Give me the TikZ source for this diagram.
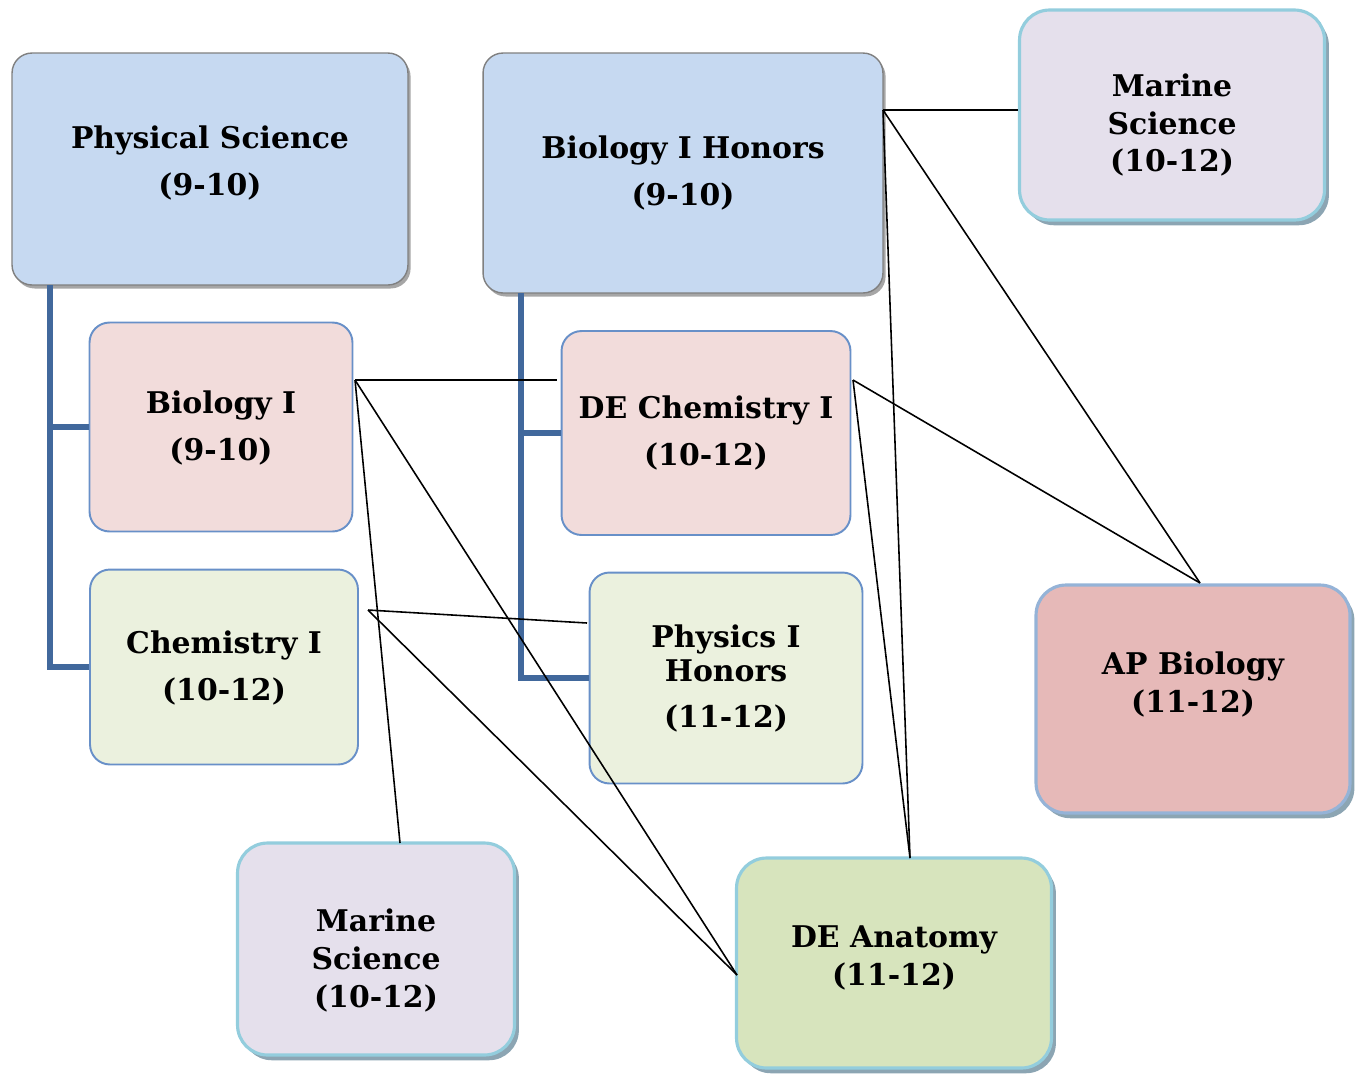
\documentclass[tikz,border=0pt]{standalone}
\usepackage{fontspec}
\setmainfont{DejaVu Serif}
\usepackage{tikz}
\usetikzlibrary{calc,shadows}

\definecolor{hdfill}{HTML}{C6D9F1}
\definecolor{hdline}{HTML}{808080}
\definecolor{pinkfill}{HTML}{F2DCDB}
\definecolor{greenfill}{HTML}{EBF1DE}
\definecolor{midline}{HTML}{6890C8}
\definecolor{lavfill}{HTML}{E5E0EC}
\definecolor{aqualine}{HTML}{93CDDD}
\definecolor{apfill}{HTML}{E6B9B8}
\definecolor{apline}{HTML}{95B3D7}
\definecolor{anfill}{HTML}{D7E4BD}
\definecolor{solidshadow}{HTML}{8CA5B3}
\definecolor{treeline}{HTML}{41689C}

\tikzset{
	course/.style={draw, rounded corners=0.4cm, align=center, font=\fontsize{17}{21.5}\selectfont\bfseries, inner sep=0pt},
	lastline/.style={text height=#1, text depth=0pt},
	headbox/.style={course, fill=hdfill, draw=hdline, line width=0.8pt,
		drop shadow={shadow xshift=1.5pt, shadow yshift=-2pt, fill=black, opacity=0.35}},
	midbox/.style={course, draw=midline, line width=1.1pt},
	endbox/.style={course, rounded corners=0.6cm, line width=1.8pt,
		drop shadow={shadow xshift=2.5pt, shadow yshift=-3pt, fill=solidshadow, opacity=1}},
	tree/.style={draw=treeline, line width=3.4pt},
	link/.style={draw=black, line width=0.9pt}
}

\begin{document}
\begin{tikzpicture}[x=0.02cm, y=-0.02cm]
			%%%%% START %%%%%
			\useasboundingbox (0,0) rectangle (1364,1076);
			
			\node[headbox, lastline=1.04cm, minimum width=7.92cm, minimum height=4.64cm] (phys) at (210,169) {Physical Science\\[5pt](9-10)};
			\node[headbox, lastline=1.28cm, minimum width=8cm, minimum height=4.8cm] (bioh) at (683,173) {Biology I Honors\\[5pt](9-10)};
			\node[endbox, lastline=2.28cm, fill=lavfill, draw=aqualine, minimum width=6.1cm, minimum height=4.2cm] (marT) at (1172,115) {Marine\\Science\\(10-12)};
			
			\node[midbox, lastline=1.32cm, fill=pinkfill, minimum width=5.26cm, minimum height=4.18cm] (bio) at (221,427) {Biology I\\[5pt](9-10)};
			\node[midbox, lastline=1.32cm, fill=greenfill, minimum width=5.36cm, minimum height=3.9cm] (chem) at (224,667) {Chemistry I\\[5pt](10-12)};
			\node[midbox, lastline=1.28cm, fill=pinkfill, minimum width=5.78cm, minimum height=4.08cm] (dechem) at (706,433) {DE Chemistry I\\[5pt](10-12)};
			\node[midbox, lastline=1.96cm, fill=greenfill, minimum width=5.46cm, minimum height=4.22cm] (phy) at (726,678) {Physics I\\[-2pt]Honors\\[4.5pt](11-12)};
			
			\node[endbox, lastline=0.52cm, fill=apfill, draw=apline, minimum width=6.28cm, minimum height=4.56cm] (apbio) at (1193,699) {AP Biology\\(11-12)};
			\node[endbox, lastline=2.32cm, fill=lavfill, draw=aqualine, minimum width=5.54cm, minimum height=4.24cm] (marB) at (376,949) {Marine\\Science\\(10-12)};
			\node[endbox, lastline=0.88cm, fill=anfill, draw=aqualine, minimum width=6.3cm, minimum height=4.2cm] (anat) at (894,963) {DE Anatomy\\(11-12)};
			
			% tree lines
			\coordinate (pst) at (50,285);
			\coordinate (bst) at (521,293);
			\draw[tree] (pst) |- (chem.west);
			\draw[tree] (pst |- bio.west) -- (bio.west);
			\draw[tree] (bst) |- (phy.west);
			\draw[tree] (bst |- dechem.west) -- (dechem.west);
			
			% links
			\coordinate (b1) at (355,380);
			\coordinate (b1end) at (557,380);
			\coordinate (c1) at (368,610);
			\coordinate (p1end) at (587,623);
			\coordinate (bh) at (883,110);
			\coordinate (dc) at (853,380);
			\coordinate (ap) at (1200,583);
			\coordinate (an) at (910,858);
			\coordinate (anw) at (737,975);
			\coordinate (mb) at (400,843);
			
			\draw[link] (b1) -- (b1end);
			\draw[link] (b1) -- (anw);
			\draw[link] (b1) -- (mb);
			\draw[link] (c1) -- (p1end);
			\draw[link] (c1) -- (anw);
			\draw[link] (bh) -- (bh -| marT.west);
			\draw[link] (bh) -- (ap);
			\draw[link] (bh) -- (an);
			\draw[link] (dc) -- (ap);
			\draw[link] (dc) -- (an);
			%%%%% END %%%%%
\end{tikzpicture}
\end{document}
